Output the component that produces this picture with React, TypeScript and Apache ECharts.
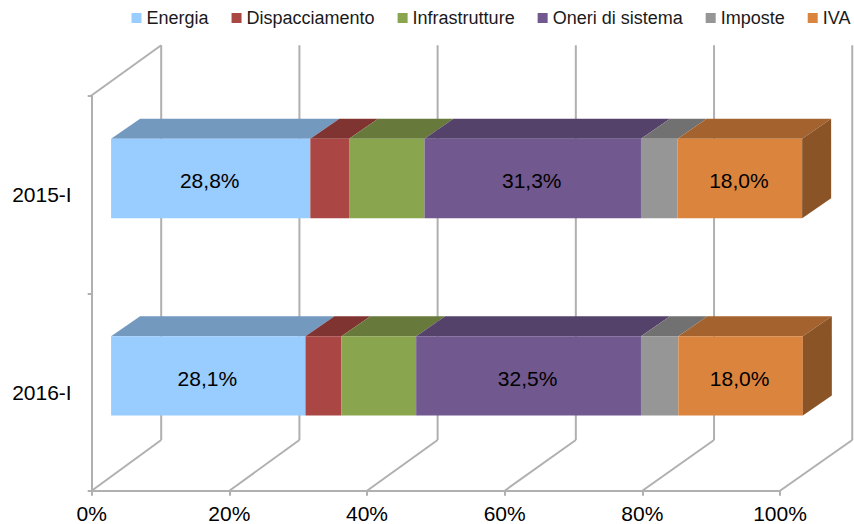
import React, { useEffect, useRef } from "react";
import * as echarts from "echarts";

const categories = ["2015-I", "2016-I"];
const seriesNames = ["Energia", "Dispacciamento", "Infrastrutture", "Oneri di sistema", "Imposte", "IVA"];
const energia = [28.8, 28.1];
const dispacciamento = [5.6, 5.2];
const infrastrutture = [10.9, 10.8];
const oneri = [31.3, 32.5];
const imposte = [5.3, 5.4];
const iva = [18.0, 18.0];
const seriesValues = [energia, dispacciamento, infrastrutture, oneri, imposte, iva];
const labelledSeries = ["Energia", "Oneri di sistema", "IVA"];
const xTicks = [0, 20, 40, 60, 80, 100];

const frontColors = ["#99CCFF", "#AA4643", "#89A54E", "#71588F", "#969696", "#DB843D"];
const topColors = ["#7399BF", "#803432", "#677A3B", "#55426B", "#717171", "#A4632E"];
const sideColor = "#8A5426";
const gridColor = "#B0B0B0";
const FONT = "'Liberation Sans', Arial, sans-serif";

// 3D projection of the chart box (pixels)
const WALL_DX = 69.5;
const WALL_DY = -50.7;
const BAR_DX = 19.4;
const BAR_DY = -16.2;
const BAR_SCALE = 1.005;
const BAR_H = 79.4;
const BAR_DEPTH_X = 29;
const BAR_DEPTH_Y = -20;

const fmt = (v: number) => v.toFixed(1).replace(".", ",") + "%";

const wallRender = (params: any, api: any) => {
  const cs = params.coordSys;
  const x = api.coord([api.value(0), 0])[0];
  const bottom = cs.y + cs.height;
  const backX = cs.x + (x - cs.x) * 1.004 + WALL_DX;
  const ls = { stroke: gridColor, lineWidth: 2, fill: "none" };
  const children: any[] = [
    { type: "line", shape: { x1: x, y1: bottom, x2: backX, y2: bottom + WALL_DY }, style: ls },
    { type: "line", shape: { x1: backX, y1: bottom + WALL_DY, x2: backX, y2: cs.y + WALL_DY }, style: ls },
  ];
  if (api.value(0) === 0) {
    children.push({ type: "line", shape: { x1: x - 1, y1: cs.y, x2: backX, y2: cs.y + WALL_DY }, style: ls });
  }
  return { type: "group", children };
};

const barRender = (seriesIndex: number) => (params: any, api: any) => {
  const cs = params.coordSys;
  const a = api.coord([api.value(1), api.value(0)]);
  const b = api.coord([api.value(2), api.value(0)]);
  const xa = cs.x + (a[0] - cs.x) * BAR_SCALE + BAR_DX;
  const xb = cs.x + (b[0] - cs.x) * BAR_SCALE + BAR_DX;
  const top = a[1] + BAR_DY - BAR_H / 2;
  const bot = top + BAR_H;
  const children: any[] = [
    {
      type: "polygon",
      shape: { points: [[xa, top], [xa + BAR_DEPTH_X, top + BAR_DEPTH_Y], [xb + BAR_DEPTH_X, top + BAR_DEPTH_Y], [xb, top]] },
      style: { fill: topColors[seriesIndex] },
    },
    { type: "rect", shape: { x: xa, y: top, width: xb - xa, height: BAR_H }, style: { fill: frontColors[seriesIndex] } },
  ];
  if (seriesIndex === seriesNames.length - 1) {
    children.push({
      type: "polygon",
      shape: { points: [[xb, top], [xb + BAR_DEPTH_X, top + BAR_DEPTH_Y], [xb + BAR_DEPTH_X, bot + BAR_DEPTH_Y], [xb, bot]] },
      style: { fill: sideColor },
    });
  }
  if (labelledSeries.includes(seriesNames[seriesIndex])) {
    children.push({
      type: "text",
      x: (xa + xb) / 2 - 1,
      y: (top + bot) / 2 + 2.5,
      style: {
        text: fmt(api.value(2) - api.value(1)),
        fill: "#000",
        font: `21px ${FONT}`,
        align: "center",
        verticalAlign: "middle",
      },
    });
  }
  return { type: "group", children };
};

export default function App() {
  const ref = useRef<HTMLDivElement>(null);
  useEffect(() => {
    const chart = echarts.init(ref.current!, null, { renderer: "svg" });
    const starts = categories.map(() => 0);
    const barSeries = seriesNames.map((name, i) => {
      const data = categories.map((_, c) => {
        const s = starts[c];
        starts[c] = s + seriesValues[i][c];
        return [c, s, starts[c]];
      });
      return {
        type: "custom",
        name,
        renderItem: barRender(i),
        encode: { x: [1, 2], y: 0 },
        itemStyle: { color: frontColors[i] },
        data,
        z: 5,
        silent: true,
      };
    });
    chart.setOption({
      animation: false,
      backgroundColor: "#fff",
      legend: {
        data: seriesNames,
        left: 131.5,
        top: 9,
        icon: "rect",
        itemWidth: 10,
        itemHeight: 10,
        itemGap: 23,
        padding: 0,
        selectedMode: false,
        textStyle: { fontFamily: FONT, fontSize: 18, color: "#1a1a1a" },
      },
      grid: { left: 91.7, top: 96, width: 688.3, height: 394.7 },
      xAxis: {
        type: "value",
        min: 0,
        max: 100,
        interval: 20,
        axisLine: { show: true, lineStyle: { color: gridColor, width: 2 } },
        axisTick: { show: true, length: 5, lineStyle: { color: gridColor, width: 2 } },
        splitLine: { show: false },
        axisLabel: {
          formatter: (v: number) => v + "%",
          fontFamily: FONT,
          fontSize: 21,
          color: "#000",
          margin: 12,
        },
      },
      yAxis: {
        type: "category",
        data: categories,
        inverse: true,
        offset: 1,
        axisLine: { show: true, lineStyle: { color: gridColor, width: 2 } },
        axisTick: { show: true, length: 4, lineStyle: { color: gridColor, width: 2 } },
        axisLabel: { fontFamily: FONT, fontSize: 21, color: "#000", margin: 19 },
      },
      series: [
        {
          type: "custom",
          name: "grid",
          renderItem: wallRender,
          encode: { x: 0 },
          data: xTicks.map((v) => [v]),
          z: 1,
          silent: true,
        },
        ...barSeries,
      ],
    });
    return () => chart.dispose();
  }, []);
  return <div ref={ref} style={{ position: "absolute", left: 0, top: 0, width: 854, height: 524 }} />;
}
